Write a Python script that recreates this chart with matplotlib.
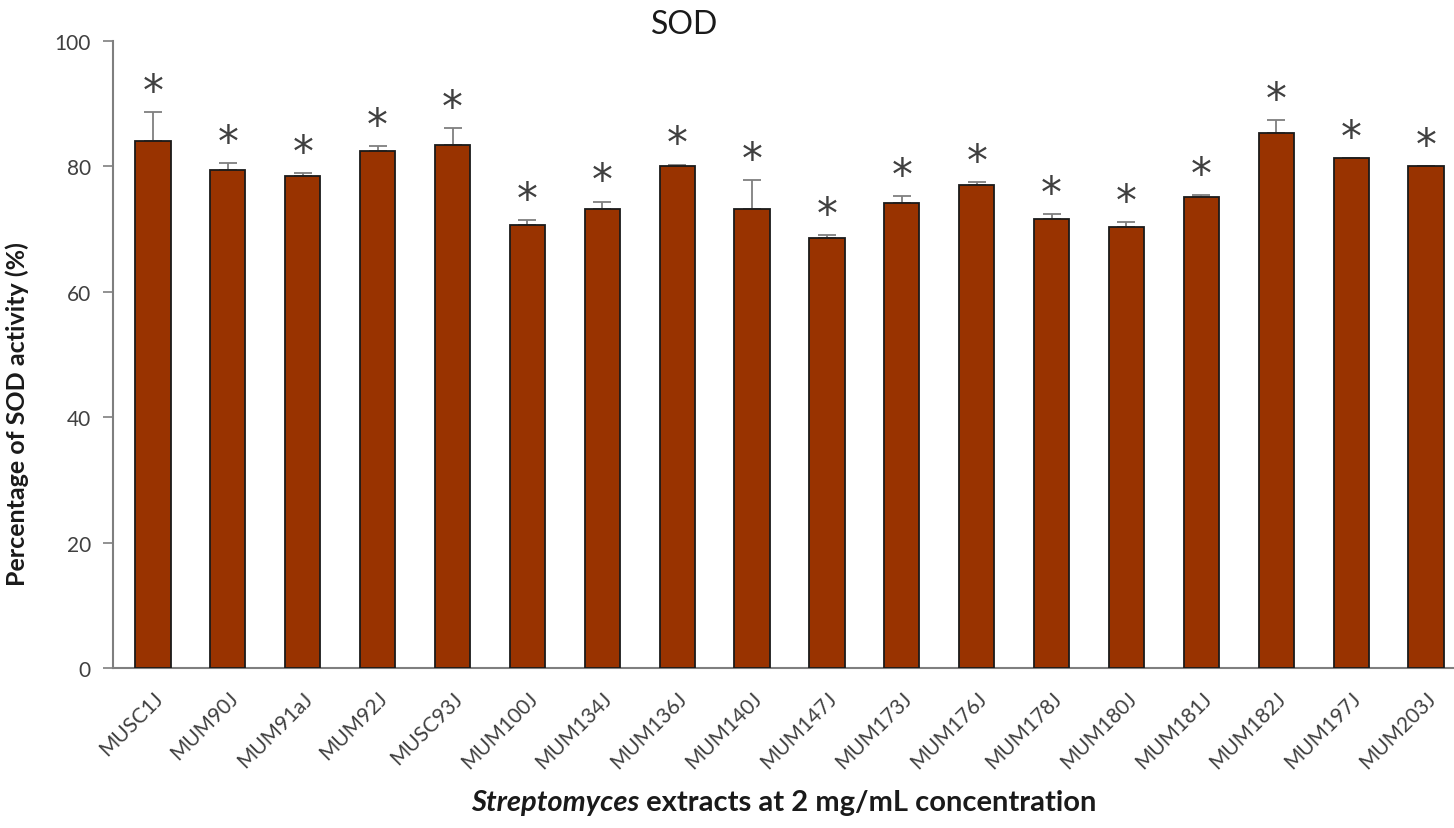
import matplotlib
matplotlib.use("Agg")
import matplotlib.pyplot as plt
import numpy as np

# SOD activity of Streptomyces extracts (2 mg/mL)
strains = ["MUSC1J", "MUM90J", "MUM91aJ", "MUM92J", "MUSC93J", "MUM100J",
           "MUM134J", "MUM136J", "MUM140J", "MUM147J", "MUM173J", "MUM176J",
           "MUM178J", "MUM180J", "MUM181J", "MUM182J", "MUM197J", "MUM203J"]
sod_activity = [84.0, 79.5, 78.4, 82.4, 83.4, 70.6, 73.2, 80.1, 73.2,
                68.6, 74.2, 77.1, 71.6, 70.3, 75.1, 85.4, 81.3, 80.0]
sod_error = [4.7, 1.0, 0.5, 0.9, 2.7, 0.9, 1.2, 0.2, 4.7,
             0.4, 1.1, 0.4, 0.8, 0.9, 0.3, 2.0, 0.1, 0.1]
yticks = [0, 20, 40, 60, 80, 100]

plt.rcParams["font.family"] = ["Lato", "DejaVu Sans"]

fig = plt.figure(figsize=(14.54, 8.29), dpi=100)
ax = fig.add_axes([0.0777, 0.193, 0.9223, 0.7563])

x = np.arange(len(strains))
ax.bar(x, sod_activity, width=0.47, color="#993300", edgecolor="#1a1a1a",
       linewidth=1.3, zorder=3)
ax.errorbar(x, sod_activity, yerr=[np.zeros(len(x)), sod_error], fmt="none",
            ecolor="#7f7f7f", elinewidth=1.3, capsize=6.5, capthick=1.3, zorder=2)

# significance markers above each bar
for xi, v, e in zip(x, sod_activity, sod_error):
    ax.text(xi, v + e + 3.2, "*", ha="center", va="center", fontsize=30,
            color="#404040", family="DejaVu Sans")

ax.set_xlim(-0.534, 17.374)
ax.set_ylim(0, 100)
ax.set_yticks(yticks)
ax.set_yticklabels([str(t) for t in yticks], fontsize=15, color="#404040")
ax.set_xticks(x)
ax.set_xticklabels(strains, rotation=45, ha="right", rotation_mode="anchor",
                   fontsize=15, color="#404040")
ax.tick_params(axis="x", length=0, pad=14)
ax.tick_params(axis="y", length=7, width=1.2, color="#7f7f7f", direction="out", pad=9)

for side in ["top", "right"]:
    ax.spines[side].set_visible(False)
for side in ["left", "bottom"]:
    ax.spines[side].set_color("#7f7f7f")
    ax.spines[side].set_linewidth(1.5)

ax.set_ylabel("Percentage of SOD activity (%)", fontsize=18, fontweight="bold",
              color="#1a1a1a")
ax.yaxis.set_label_coords(29 / 1454, 0.5, transform=fig.transFigure)

fig.text(685 / 1454, 0.97, "SOD", ha="center", va="center", fontsize=23,
         color="#1a1a1a")

# two-part x-axis label: italic genus name followed by upright text
lab_italic = fig.text(0.0, 0.031, "Streptomyces", fontsize=21, fontweight="bold",
                      style="italic", color="#1a1a1a", ha="left", va="center")
lab_rest = fig.text(0.0, 0.031, " extracts at 2 mg/mL concentration", fontsize=21,
                    fontweight="bold", color="#1a1a1a", ha="left", va="center")

fig.canvas.draw()
r = fig.canvas.get_renderer()
w1 = lab_italic.get_window_extent(r).width
w2 = lab_rest.get_window_extent(r).width
W = fig.bbox.width
ab = ax.get_window_extent(r)
cx = (ab.x0 + ab.x1) / 2
start = cx - (w1 + w2) / 2
lab_italic.set_x(start / W)
lab_rest.set_x((start + w1) / W)

fig.savefig("out.png", dpi=100)
